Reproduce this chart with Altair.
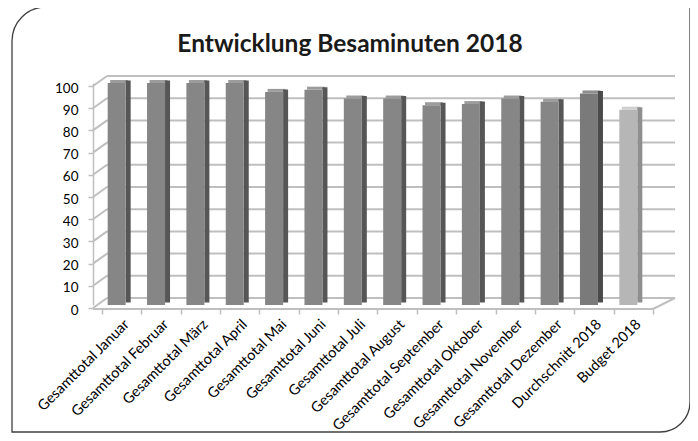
import altair as alt
import pandas as pd

title_text = "Entwicklung Besaminuten 2018"
categories = [
    "Gesamttotal Januar", "Gesamttotal Februar", "Gesamttotal März", "Gesamttotal April",
    "Gesamttotal Mai", "Gesamttotal Juni", "Gesamttotal Juli", "Gesamttotal August",
    "Gesamttotal September", "Gesamttotal Oktober", "Gesamttotal November",
    "Gesamttotal Dezember", "Durchschnitt 2018", "Budget 2018",
]
values = [100, 100, 100, 100, 96, 97, 93, 93, 90, 90.5, 93, 91.5, 95.3, 88]
kinds = ["Monat"] * 12 + ["Durchschnitt", "Budget"]
tick_values = [0, 10, 20, 30, 40, 50, 60, 70, 80, 90, 100]

df = pd.DataFrame({"cat": categories, "val": values, "kind": kinds})
grid_df = pd.DataFrame({"v": tick_values})

W, H = 551, 222
FONT = "Lato"
GRID = "#bfbfbf"
kind_domain = ["Monat", "Durchschnitt", "Budget"]

yscale = alt.Scale(domain=[0, 100], nice=False, zero=True)
xscale = alt.Scale(domain=categories, paddingInner=0, paddingOuter=0)

x_axis = alt.Axis(
    title=None, labelAngle=-45, labelFont=FONT, labelFontSize=14.5, labelColor="#000",
    domain=False, tickBand="extent", tickSize=5, tickColor=GRID, tickWidth=1.5,
    offset=4, labelPadding=3,
)
y_axis = alt.Axis(
    title=None, values=tick_values, offset=9, tickSize=5, tickColor=GRID, tickWidth=1.5,
    domainColor=GRID, domainWidth=1.5, tickOffset=3, labelOffset=2, labelPadding=10,
    labelFont=FONT, labelFontSize=13.5, labelColor="#000", grid=False,
)

def Y(field):
    return alt.Y(field, scale=yscale, axis=y_axis)

def X():
    return alt.X("cat:N", sort=categories, scale=xscale, axis=x_axis)

# frame
frame = alt.Chart(alt.Data(values=[{}])).mark_rect(
    fillOpacity=0, stroke="#404040", strokeWidth=1.3,
    cornerRadiusTopLeft=34, cornerRadiusBottomRight=30,
).encode(x=alt.value(-90), x2=alt.value(588), y=alt.value(-76), y2=alt.value(349))

# title as text
title = alt.Chart(alt.Data(values=[{"t": title_text}])).mark_text(
    font=FONT, fontSize=24.5, fontWeight="bold", color="#1a1a1a", align="center",
    baseline="alphabetic",
).encode(text="t:N", x=alt.value(248), y=alt.value(-31))

# back-wall gridlines
back_grid = alt.Chart(grid_df).mark_rule(color=GRID, strokeWidth=2, yOffset=-7).encode(
    y=Y("v:Q"), x=alt.value(5), x2=alt.value(573)
)
# left-wall diagonals
left_grid = alt.Chart(grid_df).mark_rule(color=GRID, strokeWidth=2, yOffset=3, y2Offset=-7).encode(
    y=Y("v:Q"), y2="v:Q", x=alt.value(-9), x2=alt.value(5)
)
# floor front edge and right diagonal
floor_df = pd.DataFrame({"v": [0]})
floor_front = alt.Chart(floor_df).mark_rule(color=GRID, strokeWidth=2, yOffset=4).encode(
    y=Y("v:Q"), x=alt.value(-9), x2=alt.value(551)
)
floor_right = alt.Chart(floor_df).mark_rule(color=GRID, strokeWidth=2, yOffset=4, y2Offset=-7).encode(
    y=Y("v:Q"), y2="v:Q", x=alt.value(551), x2=alt.value(573)
)

base = alt.Chart(df)

cap = base.mark_bar(width=18, xOffset=-2.5, yOffset=-3, y2Offset=0).encode(
    x=X(), y=Y("val:Q"), y2="val:Q",
    color=alt.Color("kind:N", scale=alt.Scale(domain=kind_domain, range=["#9c9c9c", "#8e8e8e", "#d0d0d0"]), legend=None),
)
side = base.mark_bar(width=5, xOffset=6.5, yOffset=-2.5, y2Offset=-2.5).encode(
    x=X(), y=Y("val:Q"),
    color=alt.Color("kind:N", scale=alt.Scale(domain=kind_domain, range=["#565656", "#4a4a4a", "#8f8f8f"]), legend=None),
)
front = base.mark_bar(width=18, xOffset=-5).encode(
    x=X(), y=Y("val:Q"),
    color=alt.Color("kind:N", scale=alt.Scale(domain=kind_domain, range=["#868686", "#7a7a7a", "#b6b6b6"]), legend=None),
)

chart = alt.layer(
    frame, title, back_grid, left_grid, floor_front, floor_right, cap, side, front
).resolve_scale(color="independent").properties(
    width=W, height=H,
    autosize=alt.AutoSizeParams(type="none"),
    padding={"left": 94, "top": 75, "right": 37, "bottom": 128},
).configure_view(stroke=None)

chart.save("out.html", embed_options={"renderer": "svg", "actions": False})
